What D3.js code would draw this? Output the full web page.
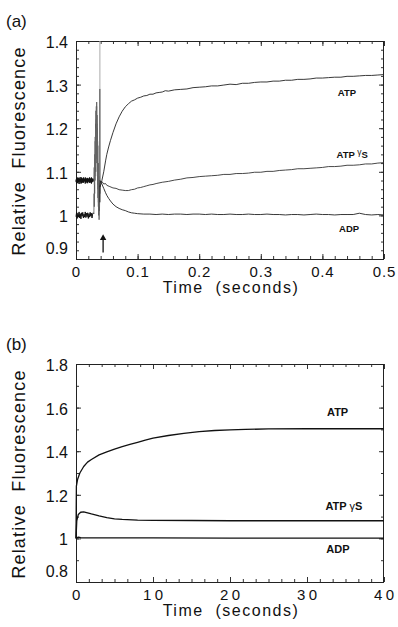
<!DOCTYPE html>
<html>
<head>
<meta charset="utf-8">
<script src="https://cdn.jsdelivr.net/npm/d3@7"></script>
<style>
  body { margin: 0; background: #fff; }
  svg { font-family: "Liberation Sans", Arial, Helvetica, sans-serif; }
</style>
</head>
<body>
<div id="chart"></div>
<script>
// ---------- panel (a): 0 - 0.5 s ----------
var xTicksA = [0, 0.1, 0.2, 0.3, 0.4, 0.5];
var xTickLabelsA = ["0", "0.1", "0.2", "0.3", "0.4", "0.5"];
var yTicksA = [0.9, 1.0, 1.1, 1.2, 1.3, 1.4];
var yTickLabelsA = ["0.9", "1", "1.1", "1.2", "1.3", "1.4"];

// noisy baselines before mixing
var preUpperA1 = [[0,1.082],[0.001,1.073],[0.002,1.087],[0.003,1.076],[0.004,1.085],[0.005,1.072],[0.006,1.084],[0.007,1.078],[0.008,1.088],[0.009,1.074],[0.010,1.083],[0.011,1.075],[0.012,1.087],[0.013,1.077],[0.014,1.084],[0.015,1.073],[0.016,1.086],[0.017,1.078],[0.018,1.085],[0.019,1.074],[0.020,1.084],[0.021,1.077],[0.022,1.087],[0.023,1.075],[0.024,1.083],[0.025,1.073],[0.026,1.085],[0.027,1.078],[0.028,1.084],[0.029,1.080]];
var preUpperA2 = [[0,1.077],[0.001,1.085],[0.002,1.074],[0.003,1.084],[0.004,1.076],[0.005,1.087],[0.006,1.078],[0.007,1.083],[0.008,1.073],[0.009,1.086],[0.010,1.077],[0.011,1.085],[0.012,1.075],[0.013,1.084],[0.014,1.079],[0.015,1.087],[0.016,1.076],[0.017,1.083],[0.018,1.074],[0.019,1.086],[0.020,1.078],[0.021,1.084],[0.022,1.075],[0.023,1.085],[0.024,1.077],[0.025,1.087],[0.026,1.076],[0.027,1.083],[0.028,1.078],[0.029,1.081]];
var preLowerA = [[0,0.997],[0.001,1.007],[0.002,0.993],[0.003,1.005],[0.004,0.996],[0.005,1.008],[0.006,0.994],[0.007,1.004],[0.008,0.992],[0.009,1.006],[0.010,0.998],[0.011,1.007],[0.012,0.994],[0.013,1.003],[0.014,0.996],[0.015,1.008],[0.016,0.995],[0.017,1.005],[0.018,0.997],[0.019,1.006],[0.020,0.993],[0.021,1.004],[0.022,0.996],[0.023,1.007],[0.024,0.998],[0.025,1.005],[0.026,0.994],[0.027,1.003],[0.028,1.006],[0.029,1.004]];

// mixing artefact
var spikeA1 = [[0.0290,1.004],[0.0294,1.05],[0.0297,1.02],[0.0300,1.10],[0.0303,1.05],[0.0306,1.14],[0.0309,1.08],[0.0312,1.18],[0.0315,1.10],[0.0318,1.21],[0.0321,1.13],[0.0324,1.24],[0.0327,1.15],[0.0330,1.25],[0.0333,1.14],[0.0336,1.26],[0.0339,1.13],[0.0342,1.23],[0.0345,1.10],[0.0348,1.20],[0.0351,1.07],[0.0354,1.16],[0.0357,1.04],[0.0360,1.12],[0.0363,1.02],[0.0366,1.08],[0.0369,1.00],[0.0372,1.05],[0.0375,0.99],[0.0378,1.03],[0.0381,1.01],[0.0384,1.04],[0.0387,1.06],[0.0390,1.08]];
var spikeA2 = [[0.0290,1.080],[0.0295,1.11],[0.0299,1.07],[0.0303,1.13],[0.0307,1.09],[0.0311,1.17],[0.0315,1.11],[0.0319,1.20],[0.0323,1.12],[0.0327,1.22],[0.0331,1.16],[0.0335,1.25],[0.0339,1.12],[0.0343,1.21],[0.0347,1.09],[0.0351,1.17],[0.0355,1.06],[0.0359,1.12],[0.0363,1.03],[0.0367,1.09],[0.0371,1.02],[0.0375,1.06],[0.0379,1.04],[0.0383,1.07],[0.0387,1.05],[0.0390,1.075]];
var mixDarkA = [[0.0388,1.03],[0.0388,1.29]];
var mixLightA = [[0.0388,1.29],[0.0388,1.40]];

// traces after mixing
var atpA = [[0.039,1.065],[0.042,1.08],[0.045,1.10],[0.048,1.125],[0.050,1.14],[0.053,1.157],[0.056,1.172],[0.060,1.19],[0.065,1.21],[0.070,1.226],[0.075,1.239],[0.080,1.249],[0.085,1.256],[0.090,1.262],[0.095,1.265],[0.100,1.269],[0.105,1.271],[0.11,1.274],[0.115,1.275],[0.12,1.278],[0.125,1.278],[0.13,1.281],[0.135,1.282],[0.14,1.283],[0.145,1.286],[0.15,1.285],[0.16,1.288],[0.17,1.289],[0.18,1.290],[0.19,1.293],[0.20,1.294],[0.21,1.295],[0.22,1.297],[0.23,1.297],[0.24,1.299],[0.25,1.301],[0.26,1.300],[0.27,1.303],[0.28,1.303],[0.29,1.305],[0.30,1.306],[0.31,1.306],[0.32,1.308],[0.33,1.308],[0.34,1.310],[0.35,1.310],[0.36,1.312],[0.37,1.312],[0.38,1.313],[0.39,1.315],[0.40,1.315],[0.41,1.316],[0.42,1.317],[0.43,1.317],[0.44,1.319],[0.45,1.319],[0.46,1.320],[0.47,1.321],[0.48,1.321],[0.49,1.322],[0.50,1.323]];
var atpgsA = [[0.039,1.075],[0.042,1.078],[0.045,1.072],[0.048,1.073],[0.050,1.069],[0.055,1.066],[0.060,1.063],[0.065,1.062],[0.070,1.059],[0.075,1.058],[0.080,1.057],[0.085,1.057],[0.090,1.059],[0.095,1.060],[0.100,1.063],[0.105,1.064],[0.11,1.066],[0.115,1.068],[0.12,1.070],[0.125,1.071],[0.13,1.073],[0.14,1.076],[0.15,1.078],[0.16,1.081],[0.17,1.083],[0.18,1.086],[0.19,1.087],[0.20,1.089],[0.21,1.090],[0.22,1.091],[0.23,1.092],[0.24,1.094],[0.25,1.094],[0.26,1.096],[0.27,1.096],[0.28,1.097],[0.29,1.099],[0.30,1.099],[0.31,1.101],[0.32,1.101],[0.33,1.103],[0.34,1.104],[0.35,1.105],[0.36,1.107],[0.37,1.107],[0.38,1.108],[0.39,1.109],[0.40,1.110],[0.41,1.112],[0.42,1.112],[0.43,1.113],[0.44,1.115],[0.45,1.115],[0.46,1.116],[0.47,1.118],[0.48,1.118],[0.49,1.120],[0.50,1.121]];
var adpA = [[0.039,1.080],[0.042,1.072],[0.045,1.062],[0.048,1.052],[0.050,1.046],[0.053,1.039],[0.056,1.033],[0.060,1.026],[0.065,1.020],[0.070,1.016],[0.075,1.013],[0.080,1.011],[0.085,1.008],[0.090,1.006],[0.095,1.005],[0.100,1.004],[0.11,1.003],[0.12,1.003],[0.13,1.002],[0.14,1.003],[0.15,1.002],[0.16,1.003],[0.17,1.003],[0.18,1.002],[0.19,1.003],[0.20,1.003],[0.21,1.002],[0.22,1.003],[0.23,1.002],[0.24,1.002],[0.25,1.003],[0.26,1.002],[0.27,1.002],[0.28,1.003],[0.29,1.002],[0.30,1.002],[0.31,1.003],[0.32,1.002],[0.33,1.002],[0.34,1.001],[0.35,1.002],[0.36,1.002],[0.37,1.001],[0.38,1.002],[0.39,1.003],[0.40,1.002],[0.41,1.002],[0.42,1.001],[0.43,1.002],[0.44,1.002],[0.45,1.002],[0.46,1.005],[0.47,1.002],[0.48,1.001],[0.49,1.002],[0.50,1.001]];

// ---------- panel (b): 0 - 40 s ----------
var xTicksB = [0, 10, 20, 30, 40];
var xTickLabelsB = ["0", "10", "20", "30", "40"];
var yTicksB = [0.8, 1.0, 1.2, 1.4, 1.6, 1.8];
var yTickLabelsB = ["0.8", "1", "1.2", "1.4", "1.6", "1.8"];

var atpB = [[0,1.0],[0.05,1.24],[0.2,1.27],[0.5,1.30],[1,1.33],[1.5,1.35],[2,1.362],[3,1.383],[4,1.397],[5,1.41],[6,1.421],[7,1.431],[8,1.441],[9,1.451],[10,1.46],[12,1.472],[14,1.482],[16,1.49],[18,1.495],[20,1.498],[22,1.50],[25,1.502],[30,1.503],[35,1.503],[40,1.503]];
var atpgsB = [[0,1.0],[0.1,1.08],[0.3,1.11],[0.6,1.12],[1.0,1.122],[1.5,1.117],[2,1.112],[3,1.103],[4,1.095],[5,1.09],[6,1.087],[8,1.084],[10,1.083],[15,1.082],[20,1.081],[30,1.081],[40,1.081]];
var adpB = [[0,1.0],[0.3,1.006],[0.6,1.003],[1,1.002],[5,1.002],[10,1.002],[20,1.001],[30,1.001],[40,1.001]];

var seriesNames = ["ATP", "ATP\u03b3S", "ADP"];

var svgWidth = 398, svgHeight = 627;
var svg = d3.select("#chart").append("svg")
  .attr("width", svgWidth)
  .attr("height", svgHeight);

svg.append("rect").attr("width", "100%").attr("height", "100%").attr("fill", "#fff");

function drawPanel(cfg) {
  var x = d3.scaleLinear().domain(cfg.xDomain).range([76, 384]);
  var y = d3.scaleLinear().domain(cfg.yDomain).range([cfg.bottom, cfg.top]);
  var g = svg.append("g");

  // inward ticks on all four sides
  function ticks(axis, vals, size, tr) {
    g.append("g")
      .attr("transform", tr)
      .attr("color", "#333")
      .call(axis.tickValues(vals).tickSize(-size).tickFormat(""))
      .call(s => s.select(".domain").remove());
  }
  [[cfg.xMinor, 3], [cfg.xTicks, 5]].forEach(function (p) {
    ticks(d3.axisBottom(x), p[0], p[1], `translate(0,${cfg.bottom})`);
    ticks(d3.axisTop(x), p[0], p[1], `translate(0,${cfg.top})`);
  });
  [[cfg.yMinor, 3], [cfg.yTicks, 5]].forEach(function (p) {
    ticks(d3.axisLeft(y), p[0], p[1], "translate(76,0)");
    ticks(d3.axisRight(y), p[0], p[1], "translate(384,0)");
  });

  g.append("rect")
    .attr("x", 76.5).attr("y", cfg.top + 0.5)
    .attr("width", 307).attr("height", cfg.bottom - cfg.top)
    .attr("fill", "none").attr("stroke", "#222").attr("stroke-width", 1);

  // tick labels
  g.selectAll(".xl").data(cfg.xTicks).enter().append("text")
    .attr("x", (d, i) => x(d) + cfg.xLabelDx)
    .attr("y", cfg.bottom + 17.5)
    .attr("text-anchor", "middle")
    .style("font-size", "15px")
    .style("letter-spacing", cfg.xLabelSpacing + "px")
    .attr("fill", "#111")
    .text((d, i) => cfg.xLabels[i]);

  g.selectAll(".yl").data(cfg.yTicks).enter().append("text")
    .attr("x", 68)
    .attr("y", (d, i) => y(d) + (i === 0 ? -5 : 7))
    .attr("text-anchor", "end")
    .style("font-size", "16px")
    .attr("fill", "#111")
    .text((d, i) => cfg.yLabels[i]);

  // axis titles
  g.append("text")
    .attr("x", 231).attr("y", cfg.bottom + 34)
    .attr("text-anchor", "middle")
    .style("font-size", "16px")
    .style("letter-spacing", "1.5px")
    .style("white-space", "pre")
    .attr("fill", "#111")
    .text("Time  (seconds)");

  g.append("text")
    .attr("transform", `translate(25,${(cfg.top + cfg.bottom) / 2 + 1}) rotate(-90)`)
    .attr("text-anchor", "middle")
    .style("font-size", "18px")
    .style("letter-spacing", "1.2px")
    .style("white-space", "pre")
    .attr("fill", "#111")
    .text("Relative  Fluorescence");

  g.append("text")
    .attr("x", 6).attr("y", cfg.top - 14)
    .style("font-size", "17px")
    .attr("fill", "#111")
    .text(cfg.tag);

  // traces
  var line = d3.line().x(d => x(d[0])).y(d => y(d[1]));
  cfg.traces.forEach(function (t) {
    g.append("path")
      .datum(t.data)
      .attr("d", line)
      .attr("fill", "none")
      .attr("stroke", t.color)
      .attr("stroke-width", t.width)
      .attr("stroke-linejoin", "round");
  });

  // series labels
  cfg.names.forEach(function (n, i) {
    var lab = cfg.labelPos[i];
    var t = g.append("text")
      .attr("x", x(lab[0])).attr("y", y(lab[1]))
      .style("font-size", cfg.labelSize + "px")
      .style("font-weight", "bold")
      .attr("fill", "#111");
    if (n.indexOf("\u03b3") > 0) {
      t.append("tspan").text("ATP ");
      t.append("tspan").text("\u03b3")
        .style("font-weight", "normal")
        .style("font-size", (cfg.labelSize - (cfg.raiseGamma ? 1 : 0)) + "px")
        .attr("dy", cfg.raiseGamma ? -3 : 0);
      t.append("tspan").text("S").attr("dy", cfg.raiseGamma ? 3 : 0);
    } else {
      t.text(n);
    }
  });
  return { x: x, y: y, g: g };
}

var pa = drawPanel({
  tag: "(a)", top: 41, bottom: 259,
  xDomain: [0, 0.5], yDomain: [0.9, 1.4],
  xTicks: xTicksA, xLabels: xTickLabelsA, xMinor: d3.range(0, 0.5001, 0.02),
  yTicks: yTicksA, yLabels: yTickLabelsA, yMinor: d3.range(0.9, 1.4001, 0.02),
  xLabelSpacing: 0.8, xLabelDx: 0.4,
  names: seriesNames, labelSize: 9.5, raiseGamma: true,
  labelPos: [[0.425, 1.275], [0.423, 1.131], [0.427, 0.961]],
  traces: [
    { data: preUpperA1, color: "#111", width: 1 },
    { data: preUpperA2, color: "#111", width: 1 },
    { data: preLowerA, color: "#111", width: 1 },
    { data: spikeA1, color: "#555", width: 0.8 },
    { data: spikeA2, color: "#666", width: 0.8 },
    { data: mixLightA, color: "#aaa", width: 1 },
    { data: mixDarkA, color: "#222", width: 1 },
    { data: atpA, color: "#222", width: 0.9 },
    { data: atpgsA, color: "#333", width: 0.9 },
    { data: adpA, color: "#222", width: 0.9 }
  ]
});

// arrow marking the mixing time
var arrowTime = 0.044;
pa.g.append("line")
  .attr("x1", pa.x(arrowTime)).attr("x2", pa.x(arrowTime))
  .attr("y1", pa.y(0.915)).attr("y2", pa.y(0.945))
  .attr("stroke", "#111").attr("stroke-width", 1.3);
pa.g.append("path")
  .attr("d", d3.symbol(d3.symbolTriangle, 18))
  .attr("transform", `translate(${pa.x(arrowTime)},${pa.y(0.948)})`)
  .attr("fill", "#111");

drawPanel({
  tag: "(b)", top: 364, bottom: 582,
  xDomain: [0, 40], yDomain: [0.8, 1.8],
  xTicks: xTicksB, xLabels: xTickLabelsB, xMinor: d3.range(0, 40.001, 10 / 6),
  yTicks: yTicksB, yLabels: yTickLabelsB, yMinor: d3.range(0.8, 1.8001, 0.1),
  xLabelSpacing: 3.5, xLabelDx: 1.8,
  names: seriesNames, labelSize: 11, raiseGamma: false,
  labelPos: [[32.6, 1.56], [32.4, 1.13], [32.5, 0.934]],
  traces: [
    { data: atpB, color: "#111", width: 1.3 },
    { data: atpgsB, color: "#111", width: 1.3 },
    { data: adpB, color: "#111", width: 1.3 }
  ]
});
</script>
</body>
</html>
